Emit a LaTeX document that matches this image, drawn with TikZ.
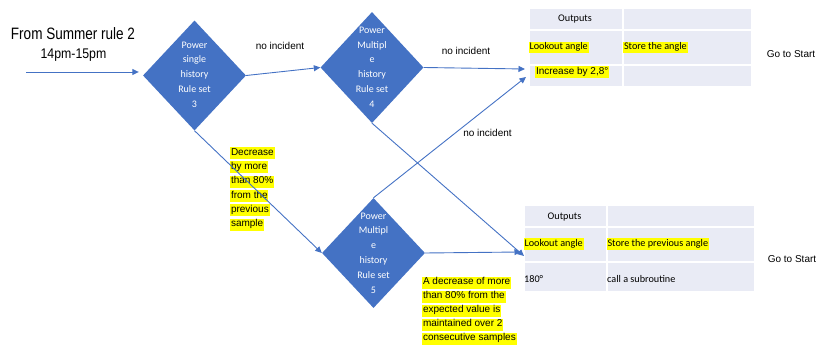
\documentclass[tikz,border=0pt]{standalone}
\usepackage{fontspec}
\setmainfont{Liberation Sans}
\newfontfamily\calfont{Carlito}
\usetikzlibrary{shapes.geometric,arrows.meta}

\definecolor{flowblue}{HTML}{4472C4}
\definecolor{cellfill}{HTML}{E9EBF5}
\definecolor{marker}{HTML}{FFFF00}

% yellow highlight for notes and for table entries
\newcommand\hlnote[1]{{\setlength{\fboxsep}{0.8pt}\colorbox{marker}{\rule[-3.2pt]{0pt}{9.6pt}#1}}}
\newcommand\hlcell[1]{{\setlength{\fboxsep}{0.8pt}\colorbox{marker}{\rule[-2.6pt]{0pt}{8.6pt}#1}}}

\begin{document}
\begin{tikzpicture}[x=1pt,y=-1pt,
  decision/.style={shape=diamond, fill=flowblue, draw=none,
    minimum width=103pt, minimum height=110pt, inner sep=0pt},
  dtext/.style={text=white, font=\calfont\fontsize{10}{14.8}\selectfont,
    align=center, inner sep=0pt},
  flow/.style={draw=flowblue, line width=0.9pt,
    -{Triangle[length=6.5pt,width=6pt]}},
  note/.style={font=\fontsize{10}{12}\selectfont, inner sep=0pt, anchor=base},
  hltext/.style={font=\fontsize{10}{14.3}\selectfont, align=left,
    inner sep=0pt, anchor=north west},
  cell/.style={fill=cellfill, draw=white, line width=2pt, inner sep=0pt,
    anchor=north west},
  celltext/.style={font=\calfont\fontsize{10.2}{12}\selectfont, inner sep=0pt},
  plaintext/.style={font=\fontsize{10}{12}\selectfont, inner sep=0pt}
]
\useasboundingbox (0,0) rectangle (823,352);

% entry caption
\node[anchor=base, inner sep=0pt] (title) at (73,39.3)
  {\scalebox{0.82}[1]{\fontsize{16.5}{18}\selectfont From Summer rule 2}};
\node[anchor=base, inner sep=0pt] (hours) at (73.5,58.3)
  {\scalebox{0.88}[1]{\fontsize{14}{16}\selectfont 14pm-15pm}};

% decision diamonds
\node[decision] (d3) at (194.5,75.5) {};
\node[dtext] (d3t) at (194.5,74.5) {Power\\single\\history\\Rule set\\3};
\node[decision, minimum height=111pt] (d4) at (372,67.5) {};
\node[dtext] (d4t) at (372,67) {Power\\Multipl\\e\\history\\Rule set\\4};
\node[decision] (d5) at (373.5,253) {};
\node[dtext] (d5t) at (373.5,253) {Power\\Multipl\\e\\history\\Rule set\\5};

% output table, first case
\node[cell, minimum width=94pt, minimum height=22pt] (t1a) at (528,7) {};
\node[cell, minimum width=129pt, minimum height=22pt] (t1b) at (622,7) {};
\node[cell, minimum width=94pt, minimum height=35pt] (t1c) at (528,29) {};
\node[cell, minimum width=129pt, minimum height=35pt] (t1d) at (622,29) {};
\node[cell, minimum width=94pt, minimum height=22pt] (t1e) at (528,64) {};
\node[cell, minimum width=129pt, minimum height=22pt] (t1f) at (622,64) {};
\node[celltext, anchor=base] (t1h) at (575,22) {Outputs};
\node[celltext, anchor=west] (t1k) at (528.5,47.7) {\hlcell{Lookout angle}};
\node[celltext, anchor=west] (t1s) at (623,47.7) {\hlcell{Store the angle}};
\node[plaintext, anchor=west] (t1i) at (535,72) {\hlcell{Increase by 2,8°}};

% output table, second case
\node[cell, minimum width=83pt, minimum height=22pt] (t2a) at (523,204) {};
\node[cell, minimum width=148pt, minimum height=22pt] (t2b) at (606,204) {};
\node[cell, minimum width=83pt, minimum height=35pt] (t2c) at (523,226) {};
\node[cell, minimum width=148pt, minimum height=35pt] (t2d) at (606,226) {};
\node[cell, minimum width=83pt, minimum height=30pt] (t2e) at (523,261) {};
\node[cell, minimum width=148pt, minimum height=30pt] (t2f) at (606,261) {};
\node[celltext, anchor=base] (t2h) at (564.5,220) {Outputs};
\node[celltext, anchor=west] (t2k) at (523.5,244) {\hlcell{Lookout angle}};
\node[celltext, anchor=west] (t2s) at (606.5,244) {\hlcell{Store the previous angle}};
\node[celltext, anchor=base west] (t2v) at (524,283) {180°};
\node[celltext, anchor=base west] (t2c2) at (607,283) {call a subroutine};

% continuation notes
\node[note] (go1) at (791,58) {Go to Start};
\node[note] (go2) at (792,263) {Go to Start};

% branch labels
\node[note] (l1) at (280,50) {no incident};
\node[note] (l2) at (466,55) {no incident};
\node[note] (l3) at (487.5,136.7) {no incident};
\node[hltext] (l4) at (230,147.3)
  {\hlnote{Decrease}\\\hlnote{by more}\\\hlnote{than 80\%}\\\hlnote{from the}\\\hlnote{previous}\\\hlnote{sample}};
\node[hltext, font=\fontsize{10}{14}\selectfont] (l5) at (422,276.7)
  {\hlnote{A decrease of more}\\\hlnote{than 80\% from the}\\\hlnote{expected value is}\\\hlnote{maintained over 2}\\\hlnote{consecutive samples}};

% connector end points
\coordinate (src) at (26,72);
\coordinate (t1in) at (525,69);
\coordinate (t1up) at (526,77);
\coordinate (t2in) at (521,252);
\coordinate (t2dn) at (524,256);

% connectors
\draw[flow, shorten >=4pt] (src) -- (src -| d3.west);
\draw[flow] (d3.east) -- (d4.west);
\draw[flow] (d4.east) -- (t1in);
\draw[flow] (d3.south) -- (d5.west);
\draw[flow] (d4.south) -- (t2dn);
\draw[flow] (d5.east) -- (t2in);
\draw[flow] (d5.north) -- (t1up);
\end{tikzpicture}
\end{document}
